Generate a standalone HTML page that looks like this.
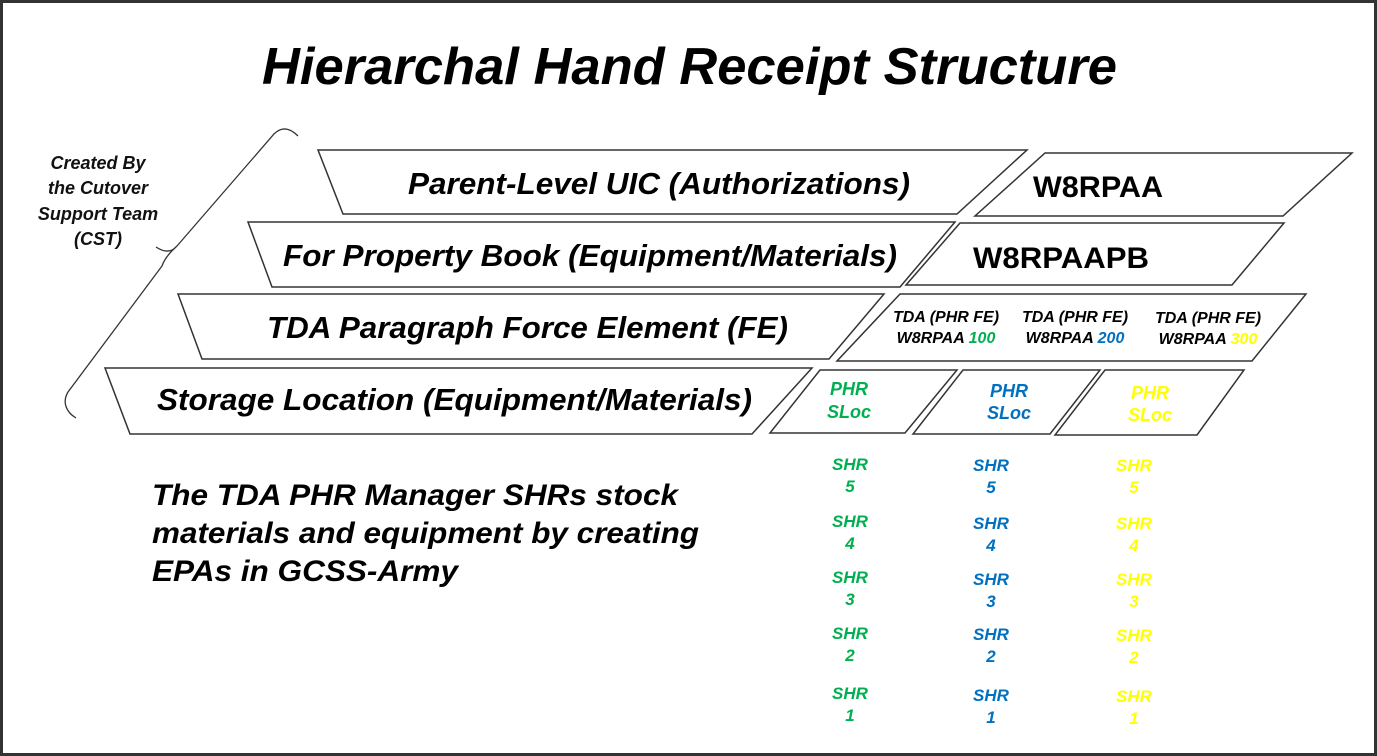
<!DOCTYPE html>
<html><head><style>
html,body{margin:0;padding:0;background:#fff}
svg{display:block}
text{font-family:"Liberation Sans",Arial,sans-serif;font-weight:bold;font-style:italic}
text.n{font-style:normal}
</style></head><body>
<svg width="1377" height="756" viewBox="0 0 1377 756">
<rect x="1.5" y="1.5" width="1374" height="753" fill="#fff" stroke="#333" stroke-width="3"/>
<text x="262" y="84" font-size="52" textLength="855" lengthAdjust="spacingAndGlyphs">Hierarchal Hand Receipt Structure</text>
<g fill="#fff" stroke="#333" stroke-width="1.5">
<polygon points="318,150 1027,150 957,214 343,214"/>
<polygon points="1045,153 1352,153 1283,216 975,216"/>
<polygon points="248,222 955,222 900,287 272,287"/>
<polygon points="960,223 1284,223 1232,285 906,285"/>
<polygon points="178,294 884,294 829,359 202,359"/>
<polygon points="900,294 1306,294 1252,361 837,361"/>
<polygon points="105,368 812,368 752,434 130,434"/>
<polygon points="820,370 957,370 905,433 770,433"/>
<polygon points="963,370 1100,370 1050,434 913,434"/>
<polygon points="1105,370 1244,370 1197,435 1055,435"/>
</g>
<path d="M298,136 C290,128 282,126 274,134 L177,246 C172,252 165,253 156,247 M177,246 C168,254 164,260 162,266 L68,392 C62,402 66,412 76,418" fill="none" stroke="#333" stroke-width="1.3"/>
<g font-size="18" text-anchor="middle" fill="#111">
<text x="98" y="169">Created By</text>
<text x="98" y="194">the Cutover</text>
<text x="98" y="220">Support Team</text>
<text x="98" y="245">(CST)</text>
</g>
<g font-size="31">
<text x="408" y="194" textLength="502" lengthAdjust="spacingAndGlyphs">Parent-Level UIC (Authorizations)</text>
<text x="283" y="266" textLength="614" lengthAdjust="spacingAndGlyphs">For Property Book (Equipment/Materials)</text>
<text x="267" y="338" textLength="521" lengthAdjust="spacingAndGlyphs">TDA Paragraph Force Element (FE)</text>
<text x="157" y="410" textLength="595" lengthAdjust="spacingAndGlyphs">Storage Location (Equipment/Materials)</text>
</g>
<text class="n" x="1033" y="197" font-size="30" textLength="130" lengthAdjust="spacingAndGlyphs">W8RPAA</text>
<text class="n" x="973" y="268" font-size="30" textLength="176" lengthAdjust="spacingAndGlyphs">W8RPAAPB</text>
<g font-size="16" text-anchor="middle">
<text x="946" y="322">TDA (PHR FE)</text>
<text x="946" y="343">W8RPAA <tspan fill="#00b050">100</tspan></text>
<text x="1075" y="322">TDA (PHR FE)</text>
<text x="1075" y="343">W8RPAA <tspan fill="#0070c0">200</tspan></text>
<text x="1208" y="323">TDA (PHR FE)</text>
<text x="1208" y="344">W8RPAA <tspan fill="#ffff00">300</tspan></text>
</g>
<g font-size="18" text-anchor="middle">
<text x="849" y="395" fill="#00b050">PHR</text><text x="849" y="418" fill="#00b050">SLoc</text>
<text x="1009" y="397" fill="#0070c0">PHR</text><text x="1009" y="419" fill="#0070c0">SLoc</text>
<text x="1150" y="399" fill="#ffff00">PHR</text><text x="1150" y="421" fill="#ffff00">SLoc</text>
</g>
<g font-size="17" text-anchor="middle">
<g fill="#00b050">
<text x="850" y="470">SHR</text><text x="850" y="492">5</text>
<text x="850" y="527">SHR</text><text x="850" y="549">4</text>
<text x="850" y="583">SHR</text><text x="850" y="605">3</text>
<text x="850" y="639">SHR</text><text x="850" y="661">2</text>
<text x="850" y="699">SHR</text><text x="850" y="721">1</text>
</g>
<g fill="#0070c0">
<text x="991" y="471">SHR</text><text x="991" y="493">5</text>
<text x="991" y="529">SHR</text><text x="991" y="551">4</text>
<text x="991" y="585">SHR</text><text x="991" y="607">3</text>
<text x="991" y="640">SHR</text><text x="991" y="662">2</text>
<text x="991" y="701">SHR</text><text x="991" y="723">1</text>
</g>
<g fill="#ffff00">
<text x="1134" y="471">SHR</text><text x="1134" y="493">5</text>
<text x="1134" y="529">SHR</text><text x="1134" y="551">4</text>
<text x="1134" y="585">SHR</text><text x="1134" y="607">3</text>
<text x="1134" y="641">SHR</text><text x="1134" y="663">2</text>
<text x="1134" y="702">SHR</text><text x="1134" y="724">1</text>
</g>
</g>
<g font-size="30">
<text x="152" y="505" textLength="526" lengthAdjust="spacingAndGlyphs">The TDA PHR Manager SHRs stock</text>
<text x="152" y="543" textLength="547" lengthAdjust="spacingAndGlyphs">materials and equipment by creating</text>
<text x="152" y="581" textLength="306" lengthAdjust="spacingAndGlyphs">EPAs in GCSS-Army</text>
</g>
</svg>
</body></html>
